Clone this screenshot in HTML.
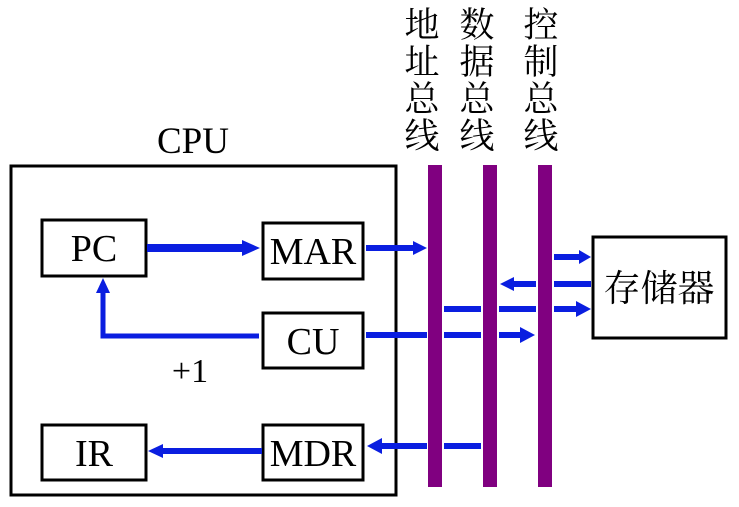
<!DOCTYPE html>
<html><head><meta charset="utf-8"><style>body{margin:0;background:#fff}svg{display:block}</style></head>
<body>
<svg width="739" height="507" viewBox="0 0 739 507" xmlns="http://www.w3.org/2000/svg">
<g font-family="'Liberation Serif','Noto Serif CJK SC',serif" fill="#000">
<g font-size="35" text-anchor="middle">
<text x="422" y="37">地</text><text x="422" y="74">址</text><text x="422" y="111">总</text><text x="422" y="148">线</text>
<text x="477" y="37">数</text><text x="477" y="74">据</text><text x="477" y="111">总</text><text x="477" y="148">线</text>
<text x="541" y="37">控</text><text x="541" y="74">制</text><text x="541" y="111">总</text><text x="541" y="148">线</text>
</g>
<text x="193" y="153" font-size="37" text-anchor="middle">CPU</text>
</g>
<rect x="11" y="166" width="385" height="329" fill="none" stroke="#000" stroke-width="3"/>
<g fill="#800080">
<rect x="428" y="165" width="14" height="322"/>
<rect x="483" y="165" width="14" height="322"/>
<rect x="538" y="165" width="14" height="322"/>
</g>
<g fill="#fff" stroke="#000" stroke-width="3">
<rect x="42" y="220" width="104" height="56"/>
<rect x="263" y="223" width="100" height="56"/>
<rect x="263" y="313" width="100" height="55"/>
<rect x="42" y="425" width="104" height="55"/>
<rect x="263" y="425" width="100" height="55"/>
<rect x="593" y="237" width="133" height="101"/>
</g>
<g font-family="'Liberation Serif','Noto Serif CJK SC',serif" font-size="38" text-anchor="middle" fill="#000">
<text x="94" y="261">PC</text>
<text x="313" y="264">MAR</text>
<text x="313" y="354">CU</text>
<text x="94" y="466">IR</text>
<text x="313" y="466">MDR</text>
<text x="659" y="301" font-size="37">存储器</text>
<text x="190" y="382" font-size="34">+1</text>
</g>
<g stroke="#0a1ee0" fill="none">
<line x1="147" y1="248" x2="246" y2="248" stroke-width="8"/>
<polyline points="259,336 103,336 103,292" stroke-width="5"/>
<line x1="366" y1="248" x2="414" y2="248" stroke-width="6"/>
<line x1="366" y1="335" x2="427" y2="335" stroke-width="6"/>
<line x1="444" y1="335" x2="481" y2="335" stroke-width="6"/>
<line x1="499" y1="335" x2="522" y2="335" stroke-width="6"/>
<line x1="444" y1="309" x2="481" y2="309" stroke-width="6"/>
<line x1="499" y1="309" x2="536" y2="309" stroke-width="6"/>
<line x1="554" y1="309" x2="578" y2="309" stroke-width="6"/>
<line x1="554" y1="257" x2="580" y2="257" stroke-width="6"/>
<line x1="591" y1="284" x2="554" y2="284" stroke-width="6"/>
<line x1="536" y1="284" x2="512" y2="284" stroke-width="6"/>
<line x1="481" y1="446" x2="444" y2="446" stroke-width="6"/>
<line x1="427" y1="446" x2="380" y2="446" stroke-width="6"/>
<line x1="262" y1="451" x2="162" y2="451" stroke-width="6"/>
</g>
<g fill="#0a1ee0">
<polygon points="260,248 242,240 242,256"/>
<polygon points="103,278 96,293 110,293"/>
<polygon points="427,248 413,241 413,255"/>
<polygon points="535,335 520,327 520,343"/>
<polygon points="591,309 576,301 576,317"/>
<polygon points="591,257 579,250 579,264"/>
<polygon points="500,284 514,277 514,291"/>
<polygon points="367,446 382,438 382,454"/>
<polygon points="148,451 163,444 163,458"/>
</g>
</svg>
</body></html>
